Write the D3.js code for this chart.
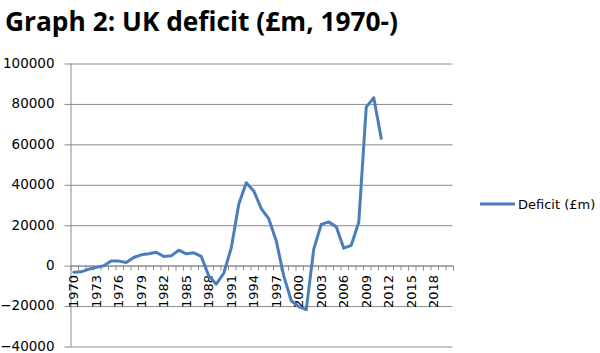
<!DOCTYPE html>
<html>
<head>
<meta charset="utf-8">
<script src="https://cdnjs.cloudflare.com/ajax/libs/d3/7.8.5/d3.min.js"></script>
<style>
  body { margin: 0; background: #fff; }
  svg { display: block; }
</style>
</head>
<body>
<script>
// categories on the x axis: 1970 .. 2020
var years = d3.range(1970, 2021);
// deficit values, 1970 .. 2011
var deficitYears = d3.range(1970, 2012);
var deficit = [
  -3500, -3300, -2000, -1100, -300, 2000, 2000, 1300, 3800, 5100,
  5600, 6400, 4300, 4600, 7400, 5600, 6100, 4300, -5300, -9400,
  -4000, 8500, 30100, 40800, 36700, 28000, 23000, 12000, -5300, -17600,
  -20500, -22000, 7900, 20200, 21400, 19000, 8400, 9800, 21200, 78200,
  82800, 62700
];
var yTicks = [-40000, -20000, 0, 20000, 40000, 60000, 80000, 100000];
var xTickLabels = years.filter(function(d) { return (d - 1970) % 3 === 0; });

var width = 600, height = 353;
// plot area edges (window.top is reserved, so use other names)
var plotLeft = 70, plotRight = 452.5, plotTop = 63, plotBottom = 346;

var svg = d3.select("body").append("svg")
    .attr("width", width)
    .attr("height", height);

var x = d3.scaleBand().domain(years).range([plotLeft, plotRight]).padding(0);
var xEdge = d3.scaleLinear().domain([0, years.length]).range([plotLeft, plotRight]);
var y = d3.scaleLinear().domain([-40000, 100000]).range([plotBottom, plotTop]);

// title
svg.append("text")
    .attr("x", 5)
    .attr("y", 31)
    .attr("textLength", 393)
    .attr("lengthAdjust", "spacingAndGlyphs")
    .style("font-family", "'Open Sans', sans-serif")
    .style("font-weight", "bold")
    .style("font-size", "26px")
    .style("fill", "#000")
    .text("Graph 2: UK deficit (£m, 1970-)");

// horizontal gridlines
svg.append("g")
    .attr("transform", "translate(" + plotLeft + ",0)")
    .call(d3.axisLeft(y).tickValues(yTicks).tickSize(-(plotRight - plotLeft)).tickFormat(""))
    .call(function(g) {
        g.select(".domain").remove();
        g.selectAll("line").attr("stroke", "#8c8c8c").attr("transform", "translate(0,0.5)");
    });

// y axis
svg.append("g")
    .attr("transform", "translate(" + (plotLeft + 0.5) + ",0)")
    .call(d3.axisLeft(y).tickValues(yTicks).tickSize(6).tickPadding(10).tickSizeOuter(0).tickFormat(d3.format("d")))
    .call(function(g) {
        g.select(".domain").attr("stroke", "#8c8c8c");
        g.selectAll("line").attr("stroke", "#8c8c8c").attr("transform", "translate(0,0.5)");
        g.selectAll("text")
            .style("font-family", "'DejaVu Sans', sans-serif")
            .style("font-size", "13.5px")
            .style("fill", "#000");
    });

// x axis tick marks (between categories)
svg.append("g")
    .attr("transform", "translate(0," + (Math.round(y(0)) + 0.5) + ")")
    .call(d3.axisBottom(xEdge).tickValues(d3.range(0, years.length + 1)).tickSize(5).tickFormat("").tickSizeOuter(0))
    .call(function(g) {
        g.select(".domain").attr("stroke", "#8c8c8c");
        g.selectAll("line").attr("stroke", "#8c8c8c").attr("transform", "translate(0.5,0)");
    });

// x axis labels
svg.append("g")
    .attr("transform", "translate(0," + Math.round(y(0)) + ")")
    .call(d3.axisBottom(x).tickValues(xTickLabels).tickSize(0).tickFormat(d3.format("d")))
    .call(function(g) {
        g.select(".domain").remove();
        g.selectAll("text")
            .attr("transform", "rotate(-90)")
            .attr("x", -10)
            .attr("y", 0)
            .attr("dy", "0.36em")
            .style("text-anchor", "end")
            .style("font-family", "'DejaVu Sans', sans-serif")
            .style("font-size", "13px")
            .style("fill", "#000");
    });

// the line
var line = d3.line()
    .x(function(d, i) { return x(deficitYears[i]) + x.bandwidth() / 2; })
    .y(function(d) { return y(d); });

svg.append("path")
    .datum(deficit)
    .attr("d", line)
    .attr("fill", "none")
    .attr("stroke", "#4a7ebb")
    .attr("stroke-width", 3)
    .attr("stroke-linejoin", "round")
    .attr("stroke-linecap", "round");

// legend
var legend = svg.append("g").attr("transform", "translate(480,204)");
legend.append("line")
    .attr("x1", 0).attr("x2", 35)
    .attr("stroke", "#4a7ebb")
    .attr("stroke-width", 3);
legend.append("text")
    .attr("x", 38)
    .attr("dy", "0.36em")
    .style("font-family", "'DejaVu Sans', sans-serif")
    .style("font-size", "13px")
    .style("fill", "#000")
    .text("Deficit (£m)");
</script>
</body>
</html>
